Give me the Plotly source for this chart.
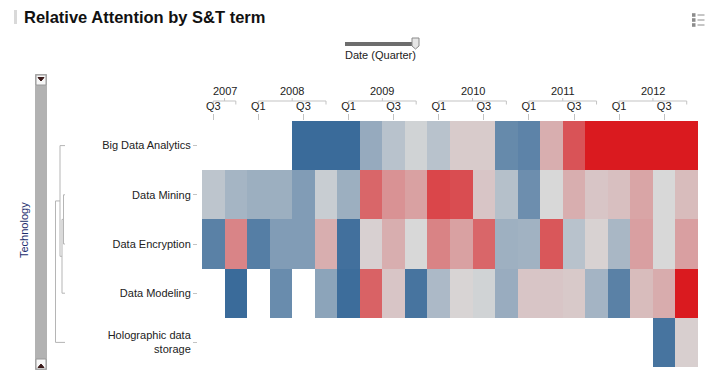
import plotly.graph_objects as go

# ---------------- data ----------------
years = ["2007", "2007", "2008", "2008", "2008", "2008", "2009", "2009", "2009", "2009",
         "2010", "2010", "2010", "2010", "2011", "2011", "2011", "2011",
         "2012", "2012", "2012", "2012"]
quarters = ["Q3", "Q4", "Q1", "Q2", "Q3", "Q4", "Q1", "Q2", "Q3", "Q4",
            "Q1", "Q2", "Q3", "Q4", "Q1", "Q2", "Q3", "Q4",
            "Q1", "Q2", "Q3", "Q4"]
technologies = ["Big Data Analytics", "Data Mining", "Data Encryption",
                "Data Modeling", "Holographic data<br>storage"]

big_data = [None, None, None, None, -1.0, -1.0, -1.0, -0.42, -0.2, -0.05, -0.2,
            0.07, 0.07, -0.72, -0.78, 0.22, 0.7, 1.0, 1.0, 1.0, 1.0, 1.0]
data_mining = [-0.17, -0.32, -0.38, -0.38, -0.55, -0.1, -0.38, 0.6, 0.37, 0.29, 0.77,
               0.73, 0.1, -0.22, -0.68, 0.0, 0.22, 0.1, 0.13, 0.27, 0.0, 0.15]
data_encryption = [-0.8, 0.44, -0.83, -0.55, -0.55, 0.22, -0.95, 0.04, 0.22, 0.0, 0.45,
                   0.29, 0.6, -0.37, -0.35, 0.68, -0.2, 0.03, -0.3, 0.3, 0.0, 0.3]
data_modeling = [None, -1.0, None, -0.7, None, -0.48, -0.98, 0.62, 0.1, -0.92, -0.28,
                 0.02, -0.05, -0.4, 0.1, 0.1, 0.08, -0.33, -0.8, 0.15, 0.23, 1.0]
holographic = [None] * 20 + [-0.92, 0.05]

z = [big_data, data_mining, data_encryption, data_modeling, holographic]

# ---------------- geometry helpers (decorations only) ----------------
W, H = 712, 377
ML, MR, MT, MB = 192, 14, 121, 10
PW = W - ML - MR
PH = H - MT - MB


def px(x):
    return (x - ML) / PW


def py(y):
    return (H - MB - y) / PH


FONT = "Arial, Liberation Sans, sans-serif"
TXT = "#222222"
LINE = "#c3c3c3"

n = len(quarters)
xi = list(range(n))
yi = list(range(len(technologies)))

fig = go.Figure()
fig.add_trace(go.Heatmap(
    z=z, x=xi, y=yi,
    colorscale=[[0.0, "rgb(58,107,154)"], [0.5, "rgb(216,216,216)"], [1.0, "rgb(218,26,31)"]],
    zmin=-1, zmax=1, showscale=False, hoverongaps=False,
    xgap=0, ygap=0,
))

tickvals = [i for i, q in enumerate(quarters) if q in ("Q1", "Q3")]
ticktext = [quarters[i] for i in tickvals]

shapes = []
annotations = []

# year brackets and labels
year_list = []
for y in years:
    if y not in year_list:
        year_list.append(y)
for y in year_list:
    idx = [i for i, v in enumerate(years) if v == y]
    a, b = idx[0], idx[-1]
    mid = (a + b) / 2
    shapes.append(dict(type="line", xref="x", yref="paper", x0=a, x1=b,
                       y0=py(101), y1=py(101), line=dict(color=LINE, width=1)))
    for e in (a, b):
        shapes.append(dict(type="line", xref="x", yref="paper", x0=e, x1=e,
                           y0=py(101), y1=py(104.5), line=dict(color=LINE, width=1)))
    shapes.append(dict(type="line", xref="x", yref="paper", x0=mid, x1=mid,
                       y0=py(101), y1=py(98), line=dict(color=LINE, width=1)))
    annotations.append(dict(x=mid, xref="x", y=py(91), yref="paper", text=y,
                            showarrow=False, xanchor="center", yanchor="middle",
                            font=dict(family=FONT, size=11, color=TXT)))

# dendrogram (row positions in data coordinates)
DG = "#b5b5b5"


def hl(x0, x1, yv):
    shapes.append(dict(type="line", xref="paper", yref="y", x0=px(x0), x1=px(x1),
                       y0=yv, y1=yv, line=dict(color=DG, width=1)))


def vl(xv, y0, y1):
    shapes.append(dict(type="line", xref="paper", yref="y", x0=px(xv), x1=px(xv),
                       y0=y0, y1=y1, line=dict(color=DG, width=1)))


nA = (1 + 2) / 2
nB = (nA + 3) / 2
nC = (0 + nB) / 2
# A: mining + encryption
vl(63.5, 1, 2); hl(63.5, 65, 1); hl(63.5, 65, 2)
# B: A + modeling
vl(62, nA, 3); hl(62, 63.5, nA); hl(62, 65, 3)
# C: big data + B
vl(60, 0, nB); hl(60, 65, 0); hl(60, 62, nB)
# root: C + holographic
vl(55.5, nC, 4); hl(55.5, 60, nC); hl(55.5, 65, 4)

# title
shapes.append(dict(type="rect", xref="paper", yref="paper", x0=px(14), x1=px(17),
                   y0=py(10), y1=py(24), fillcolor="#d9d9d9", line=dict(width=0)))
annotations.append(dict(x=px(21.5), y=py(17), xref="paper", yref="paper",
                        text="<b>Relative Attention by S&amp;T term</b>", showarrow=False,
                        xanchor="left", yanchor="middle",
                        font=dict(family=FONT, size=16.5, color="#111111")))

# slider
shapes.append(dict(type="rect", xref="paper", yref="paper", x0=px(345), x1=px(414),
                   y0=py(42), y1=py(46), fillcolor="#6d6d6d", line=dict(width=0)))
shapes.append(dict(type="path", xref="paper", yref="paper",
                   path="M {a},{b} L {c},{b} L {c},{d} L {e},{f} L {a},{d} Z".format(
                       a=px(412), b=py(38), c=px(419), d=py(46), e=px(415.5), f=py(49)),
                   fillcolor="#e6e6e6", line=dict(color="#8a8a8a", width=1)))
annotations.append(dict(x=px(380), y=py(55), xref="paper", yref="paper",
                        text="Date (Quarter)", showarrow=False, xanchor="center",
                        yanchor="middle", font=dict(family=FONT, size=11, color=TXT)))

# scrollbar on the left
shapes.append(dict(type="rect", xref="paper", yref="paper", x0=px(35), x1=px(47),
                   y0=py(74), y1=py(370), fillcolor="#b2b2b2", line=dict(width=0)))
for (top, up) in ((75, False), (359, True)):
    shapes.append(dict(type="rect", xref="paper", yref="paper", x0=px(36), x1=px(46),
                       y0=py(top), y1=py(top + 10), fillcolor="#f7f7f7",
                       line=dict(color="#9a9a9a", width=1)))
    if up:
        p = "M {a},{b} L {c},{b} L {d},{e} Z".format(a=px(38), c=px(44), b=py(367.5),
                                                     d=px(41), e=py(364))
    else:
        p = "M {a},{b} L {c},{b} L {d},{e} Z".format(a=px(38), c=px(44), b=py(77.5),
                                                     d=px(41), e=py(81))
    shapes.append(dict(type="path", xref="paper", yref="paper", path=p,
                       fillcolor="#3b1a1a", line=dict(color="#3b1a1a", width=1)))

annotations.append(dict(x=px(24), y=py(230), xref="paper", yref="paper",
                        text="Technology", textangle=-90, showarrow=False,
                        xanchor="center", yanchor="middle",
                        font=dict(family=FONT, size=11, color="#1c2d6e")))

# menu icon top right
for yy in (15, 20, 25):
    shapes.append(dict(type="rect", xref="paper", yref="paper", x0=px(692), x1=px(695.5),
                       y0=py(yy - 1.8), y1=py(yy + 1.8), fillcolor="#8c8c8c",
                       line=dict(width=0)))
    shapes.append(dict(type="line", xref="paper", yref="paper", x0=px(697.5), x1=px(704.5),
                       y0=py(yy), y1=py(yy), line=dict(color="#8c8c8c", width=1)))

fig.update_layout(
    width=W, height=H,
    margin=dict(l=ML, r=MR, t=MT, b=MB, pad=0),
    paper_bgcolor="white", plot_bgcolor="white",
    showlegend=False,
    font=dict(family=FONT, size=11, color=TXT),
    xaxis=dict(domain=[10 / PW, 1], range=[-0.5, n - 0.5], side="top",
               tickvals=tickvals, ticktext=ticktext, ticks="outside", ticklen=6,
               tickcolor=LINE, showgrid=False, zeroline=False, showline=False,
               fixedrange=True, tickfont=dict(family=FONT, size=11, color=TXT)),
    yaxis=dict(range=[len(technologies) - 0.5, -0.5], anchor="free", position=5 / PW,
               tickvals=yi, ticktext=technologies, ticks="outside", ticklen=4,
               tickcolor=LINE, showgrid=False, zeroline=False, showline=False,
               fixedrange=True, tickfont=dict(family=FONT, size=11, color=TXT)),
    shapes=shapes,
    annotations=annotations,
)

fig.write_html(
    "out.html",
    config={"displayModeBar": False},
    post_script="document.body.style.margin='0';document.body.style.padding='0';"
                "document.body.style.overflow='hidden';",
)
